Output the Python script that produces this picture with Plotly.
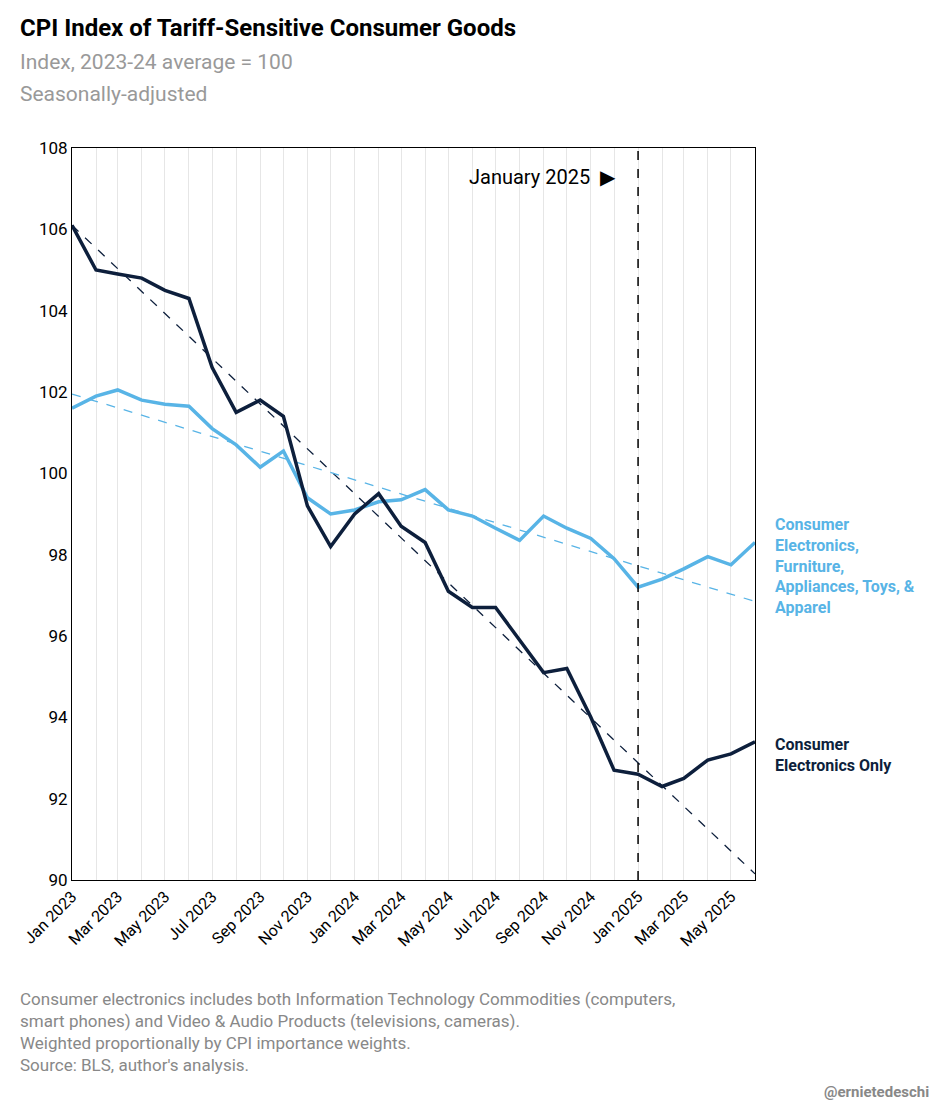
import pandas as pd
import plotly.graph_objects as go

months = pd.date_range("2023-01-01", "2025-06-01", freq="MS")

electronics_only = [106.1, 105.0, 104.9, 104.8, 104.5, 104.3, 102.6, 101.5, 101.8, 101.4,
                    99.2, 98.2, 99.0, 99.5, 98.7, 98.3, 97.1, 96.7, 96.7, 95.9,
                    95.1, 95.2, 94.0, 92.7, 92.6, 92.3, 92.5, 92.95, 93.1, 93.4]
broad_goods = [101.6, 101.9, 102.05, 101.8, 101.7, 101.65, 101.1, 100.7, 100.15, 100.55,
               99.4, 99.0, 99.1, 99.3, 99.35, 99.6, 99.1, 98.95, 98.65, 98.35,
               98.95, 98.65, 98.4, 97.9, 97.2, 97.4, 97.65, 97.95, 97.75, 98.3]

trend_x = [months[0], months[-1]]
electronics_trend = [106.1, 90.15]
broad_trend = [101.95, 96.85]

tick_vals = months[::2]
tick_text = [d.strftime("%b %Y") for d in tick_vals]

DARK = "#0d1f3c"
LIGHT = "#58b4e6"
FONT = "Liberation Sans Narrow, Roboto, Arial"

fig = go.Figure()
fig.add_trace(go.Scatter(x=trend_x, y=electronics_trend, mode="lines",
                         line=dict(color=DARK, width=1.3, dash="dash")))
fig.add_trace(go.Scatter(x=trend_x, y=broad_trend, mode="lines",
                         line=dict(color=LIGHT, width=1.3, dash="dash")))
fig.add_trace(go.Scatter(x=months, y=broad_goods, mode="lines",
                         line=dict(color=LIGHT, width=3.5)))
fig.add_trace(go.Scatter(x=months, y=electronics_only, mode="lines",
                         line=dict(color=DARK, width=3.5)))

fig.add_vline(x=months[24], line=dict(color="black", width=1.5, dash="dash"))

# pixel helpers (page pixels) for plot area l=70, r=755, t=148, b=880
def px(x): return (x - 70) / 685
def py(y): return (880 - y) / 732

ann = [
    dict(x=px(16), y=py(28), text="<b>CPI Index of Tariff-Sensitive Consumer Goods</b>",
         size=24, color="black", xanchor="left"),
    dict(x=px(16), y=py(62), text="Index, 2023-24 average = 100", size=21, color="#999999", xanchor="left"),
    dict(x=px(16), y=py(94), text="Seasonally-adjusted", size=21, color="#999999", xanchor="left"),
    dict(x=px(618), y=py(177), text="January 2025  \u25B6", size=20, color="black", xanchor="right"),
    dict(x=px(773), y=py(566), text="<b>Consumer<br>Electronics,<br>Furniture,<br>Appliances, Toys, &<br>Apparel</b>",
         size=16, color=LIGHT, xanchor="left"),
    dict(x=px(773), y=py(755), text="<b>Consumer<br>Electronics Only</b>", size=16, color=DARK, xanchor="left"),
    dict(x=px(16), y=py(1032), text="Consumer electronics includes both Information Technology Commodities (computers,<br>"
         "smart phones) and Video & Audio Products (televisions, cameras).<br>"
         "Weighted proportionally by CPI importance weights.<br>Source: BLS, author's analysis.",
         size=17, color="#888888", xanchor="left"),
    dict(x=px(932), y=py(1092), text="<b>@ernietedeschi</b>", size=15, color="#888888", xanchor="right"),
]
for a in ann:
    fig.add_annotation(x=a["x"], y=a["y"], xref="paper", yref="paper", text=a["text"], showarrow=False,
                       xanchor=a["xanchor"], yanchor="middle", align="left",
                       font=dict(family=FONT, size=a["size"], color=a["color"]))

fig.update_xaxes(range=[months[0], months[-1]], tickvals=tick_vals, ticktext=tick_text, tickangle=-45,
                 showgrid=True, gridcolor="#e6e6e6", showline=True, linecolor="black",
                 mirror=True, tickfont=dict(family=FONT, size=16, color="black"), ticks="",
                 minor=dict(dtick="M1", showgrid=True, gridcolor="#e6e6e6"))
fig.update_yaxes(range=[90, 108], dtick=2, showgrid=False, zeroline=False, showline=True,
                 linecolor="black", mirror=True, tickfont=dict(family=FONT, size=17, color="black"))

fig.update_layout(width=950, height=1109, showlegend=False, plot_bgcolor="white", paper_bgcolor="white",
                  margin=dict(l=62, r=203, t=140, b=237), font=dict(family=FONT))

fig.write_html("out.html")
